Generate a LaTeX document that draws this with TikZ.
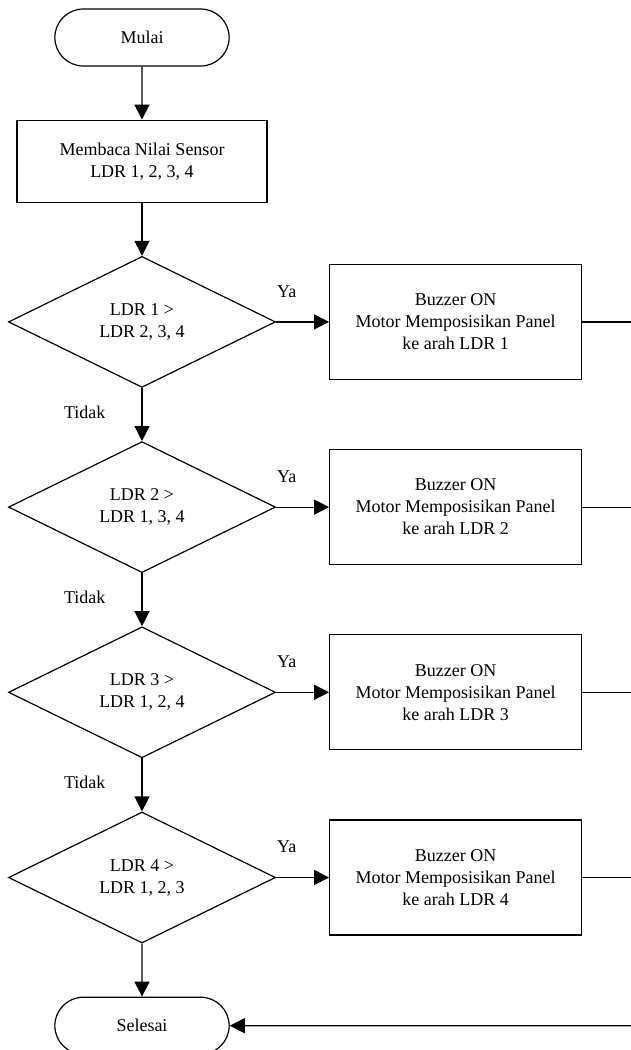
\documentclass[tikz,border=0pt]{standalone}
\usepackage{fontspec}
\setmainfont{Liberation Serif}
\newfontfamily\flowfont{Liberation Serif}
\usepackage{tikz}
\usetikzlibrary{positioning}
\usetikzlibrary{arrows.meta}
\usetikzlibrary{shapes.geometric, shapes.misc}

\begin{document}
\begin{tikzpicture}[
            x = 1pt, y = 1pt,
            > = {Triangle[width=15pt, length=15pt]}, % arrow head style
            node distance = 53pt and 53pt, % distance between nodes
            line width = 1.2pt % line style
            ]

        \tikzstyle{terminal}=[
            rounded rectangle,
            draw,
            minimum width = 181pt,
            minimum height = 57pt,
            font = \flowfont\fontsize{18}{22}\selectfont
        ]
        \tikzstyle{process}=[
            rectangle,
            draw,
            align = center,
            minimum width = 250pt,
            minimum height = 82pt,
            font = \flowfont\fontsize{18}{22}\selectfont
        ]
        \tikzstyle{action}=[
            process,
            minimum width = 252pt,
            minimum height = 115pt
        ]
        \tikzstyle{decision}=[
            diamond,
            draw,
            align = center,
            inner sep = 0pt,
            minimum width = 267pt,
            minimum height = 131pt,
            font = \flowfont\fontsize{18}{22}\selectfont
        ]
        \tikzstyle{lbl}=[
            inner sep = 0pt,
            font = \flowfont\fontsize{18}{22}\selectfont
        ]

        \useasboundingbox (0,0) rectangle (631,-1050);

	% main column
        \node (start) [terminal] at (142,-37.5) {Mulai};
        \node (read) [process, below=of start] {Membaca Nilai Sensor\\LDR 1, 2, 3, 4};
        \node (d1) [decision, below=of read] {LDR 1 >\\LDR 2, 3, 4};
        \node (d2) [decision, below=of d1] {LDR 2 >\\LDR 1, 3, 4};
        \node (d3) [decision, below=of d2] {LDR 3 >\\LDR 1, 2, 4};
        \node (d4) [decision, below=of d3] {LDR 4 >\\LDR 1, 2, 3};
        \node (stop) [terminal, below=of d4] {Selesai};

	% actions
        \node (b1) [action, right=of d1] {Buzzer ON\\Motor Memposisikan Panel\\ke arah LDR 1};
        \node (b2) [action, right=of d2] {Buzzer ON\\Motor Memposisikan Panel\\ke arah LDR 2};
        \node (b3) [action, right=of d3] {Buzzer ON\\Motor Memposisikan Panel\\ke arah LDR 3};
        \node (b4) [action, right=of d4] {Buzzer ON\\Motor Memposisikan Panel\\ke arah LDR 4};

        % right border
        \coordinate (rim) at (631,0);
        \coordinate (r1) at (b1.east -| rim);
        \coordinate (r2) at (b2.east -| rim);
        \coordinate (r3) at (b3.east -| rim);
        \coordinate (r4) at (b4.east -| rim);
        \coordinate (r5) at (stop.east -| rim);

        \path[->] (start) edge (read);
        \path[->] (read) edge (d1);

        \path[->] (d1) edge node[lbl, pos=0.2, above=24pt] {Ya} (b1);
        \path[->] (d1) edge node[lbl, pos=0.45, left=36pt] {Tidak} (d2);
        \path[->] (d2) edge node[lbl, pos=0.2, above=24pt] {Ya} (b2);
        \path[->] (d2) edge node[lbl, pos=0.45, left=36pt] {Tidak} (d3);
        \path[->] (d3) edge node[lbl, pos=0.2, above=24pt] {Ya} (b3);
        \path[->] (d3) edge node[lbl, pos=0.45, left=36pt] {Tidak} (d4);
        \path[->] (d4) edge node[lbl, pos=0.2, above=24pt] {Ya} (b4);
        \path[->] (d4) edge (stop);

	% back to end
        \path (b1) edge (r1);
        \path (b2) edge (r2);
        \path (b3) edge (r3);
        \path (b4) edge (r4);
        \path[->] (r5) edge (stop);

  \end{tikzpicture}
\end{document}
